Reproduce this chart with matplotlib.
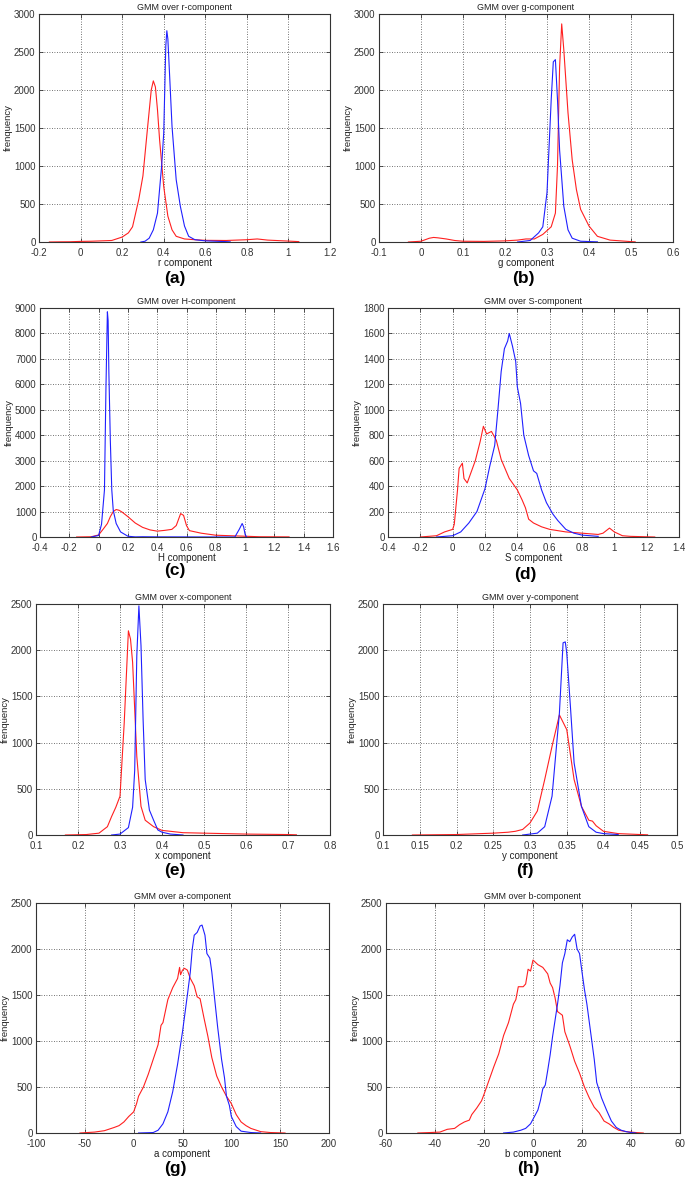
import numpy as np
import matplotlib.pyplot as plt

plt.rcParams['font.family'] = ['Liberation Sans', 'DejaVu Sans']

# ---- data ----
# (a) r component
r_red_x = [-0.15, -0.1, -0.05, 0.0, 0.05, 0.1, 0.15, 0.2, 0.23, 0.25, 0.28, 0.3, 0.32, 0.34, 0.35, 0.36, 0.37,
           0.38, 0.4, 0.42, 0.44, 0.46, 0.5, 0.55, 0.6, 0.7, 0.8, 0.85, 0.9, 1.0, 1.05]
r_red_y = [0, 2, 3, 8, 10, 15, 20, 65, 120, 200, 560, 870, 1440, 2000, 2120, 2040, 1740,
           1350, 730, 340, 160, 75, 40, 30, 22, 20, 30, 40, 25, 12, 5]
r_blue_x = [0.29, 0.31, 0.33, 0.35, 0.37, 0.39, 0.40, 0.41, 0.415, 0.42, 0.43, 0.44, 0.46, 0.48, 0.5, 0.52,
            0.55, 0.6, 0.7, 0.72]
r_blue_y = [0, 10, 50, 160, 380, 1000, 1430, 2580, 2780, 2670, 2100, 1520, 820, 470, 210, 75,
            30, 15, 5, 2]

# (b) g component
g_red_x = [-0.03, 0.0, 0.02, 0.03, 0.04, 0.06, 0.08, 0.1, 0.15, 0.2, 0.23, 0.25, 0.27, 0.29, 0.31, 0.32,
           0.325, 0.33, 0.335, 0.34, 0.35, 0.36, 0.37, 0.38, 0.4, 0.42, 0.45, 0.5, 0.51]
g_red_y = [0, 10, 50, 60, 55, 40, 20, 10, 8, 15, 25, 40, 40, 100, 200, 380,
           1000, 2300, 2870, 2530, 1700, 1080, 690, 430, 210, 75, 25, 5, 2]
g_blue_x = [0.23, 0.26, 0.28, 0.29, 0.3, 0.31, 0.315, 0.32, 0.325, 0.33, 0.34, 0.35, 0.36, 0.38, 0.42]
g_blue_y = [0, 20, 120, 200, 650, 1870, 2370, 2400, 1870, 1210, 470, 160, 50, 10, 2]

# (c) H component
h_red_x = [-0.15, -0.05, 0.0, 0.03, 0.06, 0.08, 0.1, 0.12, 0.14, 0.16, 0.2, 0.25, 0.3, 0.35, 0.4, 0.45,
           0.5, 0.53, 0.56, 0.58, 0.6, 0.62, 0.7, 0.8, 0.9, 1.0, 1.1, 1.3]
h_red_y = [0, 10, 80, 300, 530, 800, 1000, 1080, 1050, 980, 800, 550, 380, 280, 230, 260,
           300, 450, 920, 850, 450, 250, 150, 70, 50, 30, 10, 5]
h_blue_x = [-0.05, 0.0, 0.02, 0.04, 0.05, 0.06, 0.065, 0.07, 0.08, 0.09, 0.1, 0.12, 0.15, 0.2, 0.25,
            0.3, 0.4, 0.93, 0.96, 0.98, 0.99, 1.0, 1.01]
h_blue_y = [0, 60, 500, 1850, 5800, 8850, 8500, 6500, 3800, 1850, 1050, 530, 200, 30, 5,
            10, 5, 0, 300, 530, 400, 100, 0]

# (d) S component
s_red_x = [-0.2, -0.1, -0.05, 0.0, 0.01, 0.03, 0.04, 0.06, 0.07, 0.09, 0.1, 0.14, 0.17, 0.19, 0.21, 0.24,
           0.27, 0.3, 0.35, 0.4, 0.43, 0.45, 0.47, 0.5, 0.55, 0.6, 0.65, 0.7, 0.8, 0.9, 0.93, 0.97,
           1.0, 1.05, 1.1, 1.25]
s_red_y = [0, 10, 40, 60, 100, 370, 540, 580, 460, 425, 460, 600, 750, 870, 810, 830,
           760, 610, 460, 370, 290, 230, 140, 110, 80, 60, 50, 40, 30, 20, 30, 70,
           40, 10, 5, 0]
s_blue_x = [-0.1, 0.0, 0.05, 0.1, 0.15, 0.2, 0.23, 0.26, 0.28, 0.3, 0.32, 0.34, 0.35, 0.37, 0.39, 0.4,
            0.42, 0.44, 0.47, 0.5, 0.52, 0.55, 0.58, 0.62, 0.65, 0.7, 0.75, 0.8, 0.9]
s_blue_y = [0, 10, 40, 110, 200, 380, 560, 720, 1000, 1300, 1480, 1540, 1600, 1500, 1380, 1180,
            1050, 800, 640, 520, 500, 370, 270, 180, 130, 60, 30, 15, 5]

# (e) x component
x_red_x = [0.17, 0.22, 0.25, 0.27, 0.28, 0.29, 0.3, 0.31, 0.32, 0.325, 0.33, 0.34, 0.35, 0.36, 0.38,
           0.4, 0.45, 0.5, 0.6, 0.7, 0.72]
x_red_y = [0, 5, 20, 90, 200, 300, 420, 1210, 2210, 2120, 1870, 850, 310, 160, 90,
           50, 25, 20, 10, 5, 2]
x_blue_x = [0.28, 0.3, 0.32, 0.33, 0.335, 0.34, 0.345, 0.35, 0.355, 0.36, 0.37, 0.38, 0.39, 0.4, 0.42, 0.45]
x_blue_y = [0, 10, 80, 300, 700, 1940, 2480, 2050, 1250, 600, 270, 160, 55, 30, 10, 0]

# (f) y component
y_red_x = [0.14, 0.2, 0.25, 0.27, 0.28, 0.29, 0.3, 0.31, 0.32, 0.33, 0.34, 0.345, 0.35, 0.36, 0.37,
           0.38, 0.385, 0.39, 0.4, 0.42, 0.45, 0.46]
y_red_y = [0, 5, 20, 30, 40, 60, 130, 260, 600, 960, 1300, 1220, 1140, 600, 310,
           160, 150, 100, 40, 15, 5, 2]
y_blue_x = [0.29, 0.31, 0.32, 0.33, 0.34, 0.345, 0.348, 0.35, 0.355, 0.36, 0.37, 0.38, 0.39, 0.4, 0.42]
y_blue_y = [0, 20, 90, 420, 1320, 2080, 2090, 1970, 1390, 780, 310, 90, 30, 15, 5]

# (g) a component
a_red_x = [-55, -40, -30, -20, -15, -10, -5, 0, 3, 5, 10, 15, 20, 25, 28, 30, 35, 40, 45, 47, 48, 50,
           52, 55, 58, 62, 65, 68, 72, 76, 80, 85, 90, 95, 100, 105, 110, 115, 120, 130, 140, 155]
a_red_y = [0, 10, 25, 60, 80, 120, 180, 230, 320, 400, 500, 640, 800, 960, 1170, 1200, 1450, 1580, 1680,
           1800, 1720, 1770, 1790, 1770, 1680, 1600, 1480, 1460, 1250, 1050, 820, 620, 500, 400, 320,
           200, 120, 80, 50, 15, 5, 0]
a_blue_x = [5, 20, 25, 30, 35, 40, 45, 50, 55, 58, 60, 62, 65, 68, 70, 73, 75, 78, 80, 83, 86, 90, 93,
            95, 98, 100, 105, 110, 120, 130]
a_blue_y = [0, 5, 30, 100, 230, 450, 750, 1100, 1500, 1750, 2000, 2150, 2180, 2250, 2260, 2150, 1950,
            1900, 1750, 1450, 1150, 800, 600, 400, 300, 180, 70, 20, 5, 0]

# (h) b component
b_red_x = [-47, -42, -38, -35, -32, -30, -28, -26, -25, -23, -21, -20, -18, -16, -14, -12, -10, -8, -7,
           -6, -4, -3, -2, -1, 0, 2, 4, 6, 7, 8, 9, 10, 12, 13, 15, 17, 19, 21, 23, 25, 27, 29, 31, 33,
           35, 38, 42, 45]
b_red_y = [0, 5, 10, 40, 50, 90, 120, 140, 200, 270, 350, 420, 570, 720, 860, 1060, 1200, 1400, 1450,
           1590, 1590, 1620, 1780, 1760, 1880, 1830, 1800, 1730, 1630, 1580, 1470, 1320, 1280, 1100,
           950, 780, 650, 500, 380, 280, 220, 130, 100, 60, 30, 15, 5, 0]
b_blue_x = [-12, -8, -5, -3, -1, 0, 2, 3, 4, 5, 6, 7, 8, 10, 11, 12, 13, 14, 15, 16, 17, 18, 19, 20,
            21, 22, 23, 24, 25, 26, 28, 30, 32, 34, 36, 38, 40, 42]
b_blue_y = [0, 10, 30, 50, 100, 150, 250, 350, 480, 520, 680, 850, 1050, 1400, 1600, 1850, 1950, 2100,
            2080, 2130, 2160, 2000, 1950, 1750, 1560, 1400, 1200, 1000, 800, 550, 380, 250, 130, 60,
            30, 15, 5, 0]

comp_names = ['r', 'g', 'H', 'S', 'x', 'y', 'a', 'b']
panel_tags = ['(a)', '(b)', '(c)', '(d)', '(e)', '(f)', '(g)', '(h)']
red_series = [(r_red_x, r_red_y), (g_red_x, g_red_y), (h_red_x, h_red_y), (s_red_x, s_red_y),
              (x_red_x, x_red_y), (y_red_x, y_red_y), (a_red_x, a_red_y), (b_red_x, b_red_y)]
blue_series = [(r_blue_x, r_blue_y), (g_blue_x, g_blue_y), (h_blue_x, h_blue_y), (s_blue_x, s_blue_y),
               (x_blue_x, x_blue_y), (y_blue_x, y_blue_y), (a_blue_x, a_blue_y), (b_blue_x, b_blue_y)]
x_limits = [(-0.2, 1.2), (-0.1, 0.6), (-0.4, 1.6), (-0.4, 1.4), (0.1, 0.8), (0.1, 0.5), (-100, 200), (-60, 60)]
x_steps = [0.2, 0.1, 0.2, 0.2, 0.1, 0.05, 50, 20]
y_limits = [3000, 3000, 9000, 1800, 2500, 2500, 2500, 2500]
y_steps = [500, 500, 1000, 200, 500, 500, 500, 500]

# axes boxes in pixels: left, right, top, bottom
boxes = [(39, 330, 14, 242), (379, 673, 14, 242),
         (40, 333, 308, 537), (388, 679, 308, 537),
         (36, 330, 604, 835), (383, 677, 604, 835),
         (36, 329, 903, 1133), (386, 680, 903, 1133)]
tag_pos = [(175, 279), (523, 279), (175, 571), (525, 574),
           (175, 870), (525, 870), (175, 1169), (528, 1169)]

W, H = 685, 1181
fig = plt.figure(figsize=(W / 100, H / 100), dpi=100)

def fmt(v):
    s = ('%.2f' % v).rstrip('0').rstrip('.')
    return '0' if s in ('-0', '') else s

for i in range(8):
    l, r, t, b = boxes[i]
    ax = fig.add_axes([l / W, 1 - b / H, (r - l) / W, (b - t) / H])
    ax.plot(red_series[i][0], red_series[i][1], color='#ff2020', lw=0.8)
    ax.plot(blue_series[i][0], blue_series[i][1], color='#2020ff', lw=0.8)
    x0, x1 = x_limits[i]
    ax.set_xlim(x0, x1)
    ax.set_ylim(0, y_limits[i])
    xt = np.arange(x0, x1 + x_steps[i] / 2, x_steps[i])
    ax.set_xticks(xt)
    ax.set_xticklabels([fmt(v) for v in xt])
    yt = np.arange(0, y_limits[i] + 1, y_steps[i])
    ax.set_yticks(yt)
    ax.set_yticklabels([str(int(v)) for v in yt])
    ax.grid(True, color='#444444', linestyle=(0, (1, 2)), linewidth=0.6)
    ax.tick_params(direction='in', length=3, width=0.6, labelsize=7, colors='#333333',
                   top=True, right=True)
    ax.tick_params(axis='x', pad=4)
    ax.tick_params(axis='y', pad=2.5)
    for sp in ax.spines.values():
        sp.set_color('#333333')
        sp.set_linewidth(0.8)
    ax.set_title('GMM over %s-component' % comp_names[i], fontsize=6.5, pad=3, color='#222222')
    ax.set_xlabel('%s component' % comp_names[i], fontsize=7, labelpad=0, color='#222222')
    ax.set_ylabel('frenquency', fontsize=6.8, labelpad=1, color='#222222')
    fig.text(tag_pos[i][0] / W, 1 - tag_pos[i][1] / H, panel_tags[i], fontsize=12.5,
             fontweight='bold', ha='center', va='center')

fig.savefig('out.png', dpi=100)
